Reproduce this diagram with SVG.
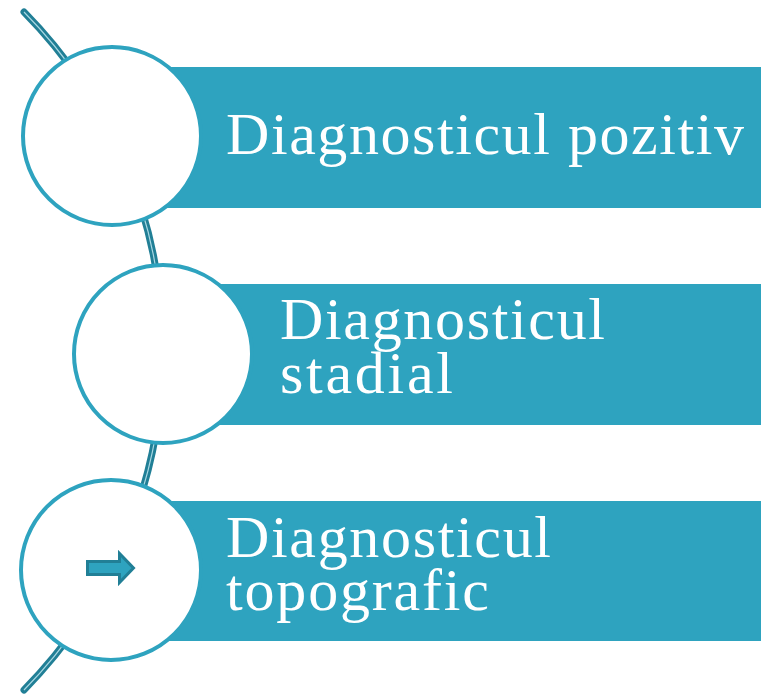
<svg xmlns="http://www.w3.org/2000/svg" width="761" height="698" viewBox="0 0 761 698">
  <style>
    .bar { fill: #2ea3bf; }
    .ring { fill: #ffffff; stroke: #2ea3bf; stroke-width: 4; }
    .lbl { fill: #ffffff; font-family: "Liberation Serif", "DejaVu Serif", serif; font-size: 60px; }
    .spine { fill: none; stroke: #217f96; stroke-width: 7; stroke-linecap: round; }
    .spine-hi { fill: none; stroke: #a8d8e3; stroke-width: 1.2; }
  </style>
  <rect width="761" height="698" fill="#ffffff"/>
  <g id="connectors">
    <path class="spine" d="M24,12 A483,483 0 0 1 24,690"/>
    <path class="spine-hi" d="M24,12 A483,483 0 0 1 24,690"/>
  </g>
  <g id="node1">
    <rect class="bar" x="112" y="67" width="649" height="141"/>
    <circle class="ring" cx="112" cy="136" r="89"/>
    <text class="lbl" x="226" y="154" textLength="518" lengthAdjust="spacing">Diagnosticul pozitiv</text>
  </g>
  <g id="node2">
    <rect class="bar" x="163" y="284" width="598" height="141"/>
    <circle class="ring" cx="163" cy="354" r="89"/>
    <text class="lbl"><tspan x="280" y="339" textLength="325" lengthAdjust="spacing">Diagnosticul</tspan><tspan x="280" y="393" textLength="173" lengthAdjust="spacing">stadial</tspan></text>
  </g>
  <g id="node3">
    <rect class="bar" x="111" y="501" width="650" height="140"/>
    <circle class="ring" cx="111" cy="570" r="90"/>
    <path d="M87.5,561.5 H119.5 V553.5 L133.5,568 L119.5,582.5 V574.5 H87.5 Z" fill="#2ea3bf" stroke="#217f96" stroke-width="3" stroke-linejoin="miter"/>
    <text class="lbl"><tspan x="226" y="557" textLength="325" lengthAdjust="spacing">Diagnosticul</tspan><tspan x="226" y="610" textLength="263" lengthAdjust="spacing">topografic</tspan></text>
  </g>
</svg>
